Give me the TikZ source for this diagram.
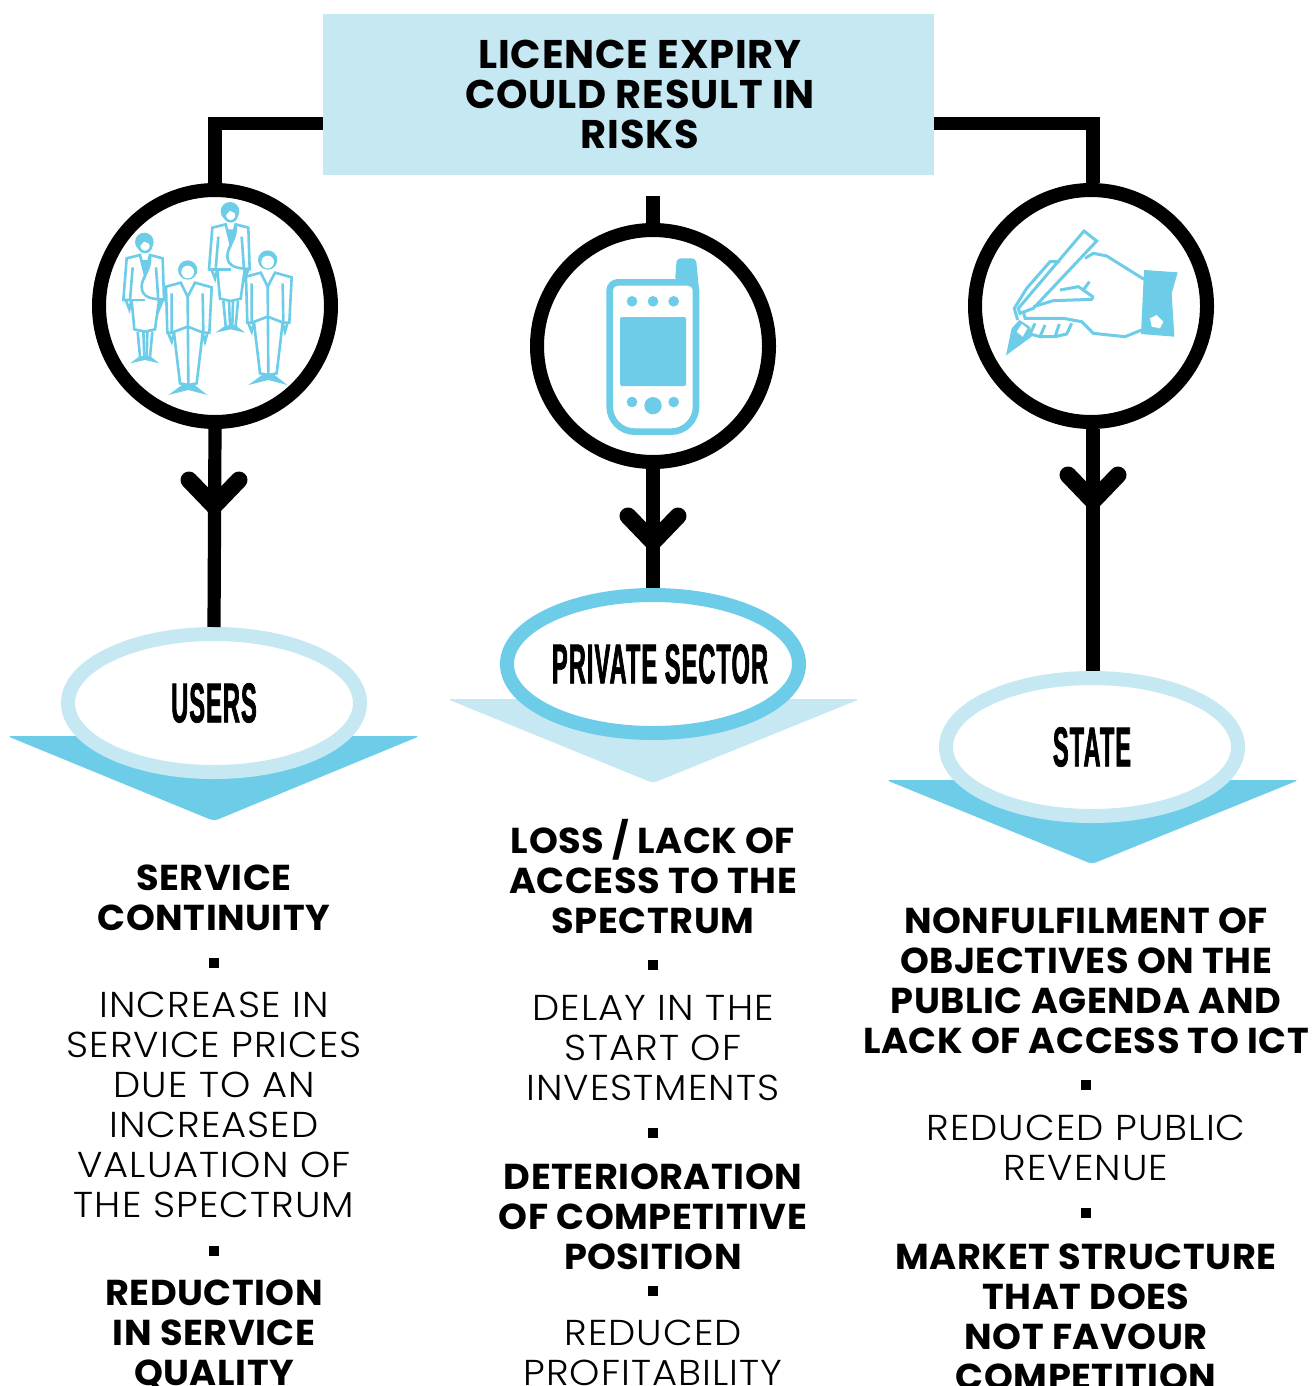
\documentclass[tikz,border=0pt]{standalone}
\usepackage{fontspec}
\usetikzlibrary{shapes.geometric,calc}
\setmainfont{Poppins}
\newfontfamily\boldf{Poppins}[UprightFont=* Bold,FakeStretch=1.02,LetterSpace=1.5]
\newfontfamily\titlef{Poppins}[UprightFont=* Bold,LetterSpace=2]
\newfontfamily\lightf{Poppins}[UprightFont=* Light,FakeStretch=1.07,LetterSpace=3]
\newfontfamily\condf{Liberation Sans}[UprightFont=* Bold,FakeStretch=0.42,FakeBold=1.2,LetterSpace=2]
\definecolor{lightb}{HTML}{C5E8F3}
\definecolor{midb}{HTML}{6DCDE8}
\tikzset{
 titlebox/.style={fill=lightb,minimum width=305.5pt,minimum height=80.5pt,inner sep=0pt,align=center,font=\titlef\fontsize{20}{20}\selectfont},
 ring/.style={circle,draw=black,line width=7pt,fill=white,minimum size=116pt,inner sep=0pt},
 oval/.style={ellipse,line width=7pt,fill=white,minimum width=146pt,minimum height=69pt,inner sep=0pt,font=\condf\fontsize{28}{30}\selectfont},
 conn/.style={draw=black,line width=6.6pt},
 chev/.style={draw=black,line width=8.5pt,line cap=round,line join=miter},
 headtxt/.style={align=center,inner sep=0pt,font=\boldf\fontsize{18}{20}\selectfont},
 bodytxt/.style={align=center,inner sep=0pt,font=\lightf\fontsize{18}{20}\selectfont},
 sq/.style={fill=black,minimum size=5pt,inner sep=0pt},
 ic/.style={draw=midb,line width=1.3pt,line join=miter},
 icf/.style={fill=midb},
 hd/.style={draw=midb,line width=1.5pt,line join=miter},
}
\newcommand{\manicon}[2]{\begin{scope}[shift={(#1,#2)}]
 \fill[icf] (293,270) circle (29);
 \fill[white] (293,276) circle (19);
 \draw[ic] (245,340) -- (245,458) -- (232,458) -- (228,320) -- (272,308) -- (293,350) -- (315,308) -- (365,322) -- (358,458) -- (340,458) -- (338,340);
 \draw[ic] (235,460) -- (245,485) -- (252,460);
 \draw[ic] (352,460) -- (345,485) -- (338,460);
 \draw[ic] (245,458) -- (293,440) -- (340,458);
 \draw[ic] (293,350) -- (295,615);
 \draw[ic] (252,458) -- (270,610) -- (295,615) -- (320,610) -- (338,458);
 \fill[icf] (235,645) -- (280,612) -- (310,612) -- (352,645) -- (295,630) -- cycle;
\end{scope}}
\newcommand{\womanicon}[2]{\begin{scope}[shift={(#1,#2)}]
 \fill[icf] (163,186) circle (28);
 \draw[ic,fill=white] (165,198) circle (18);
 \fill[icf] (140,175) -- (186,175) -- (180,192) -- (162,184) -- (150,198) -- cycle;
 \draw[ic] (128,262) -- (120,360) -- (100,360) -- (110,235) -- (150,225) -- (165,285) -- (180,225) -- (218,235) -- (222,360) -- (205,360) -- (198,262);
 \draw[ic] (180,225) .. controls (185,270) and (155,290) .. (155,320) .. controls (155,355) and (190,358) .. (222,358);
 \draw[ic] (100,360) -- (165,360);
 \fill[icf] (150,240) -- (178,240) -- (165,285) -- cycle;
 \draw[ic] (108,362) -- (118,388) -- (124,362);
 \draw[ic] (212,362) -- (207,388) -- (218,362);
 \draw[ic] (125,362) -- (133,448) -- (165,455) -- (195,448) -- (207,362);
 \draw[ic] (143,455) -- (150,530);
 \draw[ic] (160,455) -- (163,530);
 \draw[ic] (172,455) -- (170,530);
 \draw[ic] (187,455) -- (180,530);
 \fill[icf] (120,550) -- (150,528) -- (180,528) -- (208,550) -- (165,540) -- cycle;
\end{scope}}
\begin{document}
\begin{tikzpicture}[x=0.5pt,y=-0.5pt]
\useasboundingbox (0,0) rectangle (1312,1386);
\clip (0,0) rectangle (1312,1386);
% triangles
\fill[midb,rounded corners=2pt] (7,736) -- (420,736) -- (214,821) -- cycle;
\fill[lightb,rounded corners=2pt] (447,699) -- (860,699) -- (653,783) -- cycle;
\fill[midb,rounded corners=2pt] (886,780) -- (1299,780) -- (1092,864) -- cycle;
% nodes
\node[titlebox] (title) at (628.5,94.5) {\makebox[0pt]{\hspace{11.5pt}\raisebox{-0.5pt}{\parbox{300pt}{\centering LICENCE EXPIRY\\COULD RESULT IN\\RISKS}}}};
\node[ring] (c1) at (215,306) {};
\node[ring] (c2) at (653,346) {};
\node[ring] (c3) at (1091,306) {};
\node[oval,draw=lightb] (e1) at (214,703) {\makebox[0pt]{USERS}};
\node[oval,draw=midb] (e2) at (653,664) {\makebox[0pt]{\hspace{7pt}PRIVATE SECTOR}};
\node[oval,draw=lightb] (e3) at (1092,747) {\makebox[0pt]{STATE}};
\coordinate (s2) at (653,196);
\coordinate (ch1) at (214,506);
\coordinate (ch2) at (653,542);
\coordinate (ch3) at (1093,501);
% connectors
\draw[conn] ($(title.west)+(0,29)$) -| (c1.north);
\draw[conn] ($(title.east)+(0,29)$) -| ($(c3.north)+(2,0)$);
\draw[conn] (s2) -- (c2.north);
\draw[conn] (c1.south) -- (e1.north);
\draw[conn] (c2.south) -- (e2.north);
\draw[conn] ($(c3.south)+(2,0)$) -- ($(e3.north)+(1,0)$);
\draw[chev] ($(ch1)+(-25,-26)$) -- (ch1) -- ($(ch1)+(25,-26)$);
\draw[chev] ($(ch2)+(-25,-26)$) -- (ch2) -- ($(ch2)+(25,-26)$);
\draw[chev] ($(ch3)+(-25,-26)$) -- (ch3) -- ($(ch3)+(25,-26)$);
% people icon
\begin{scope}[shift={(90,180)},x=0.16667pt,y=-0.16667pt]
 \womanicon{0}{0}
 \womanicon{257}{-92}
 \manicon{0}{0}
 \manicon{240}{-30}
\end{scope}
% phone icon
\begin{scope}[shift={(530,220)},x=0.16667pt,y=-0.16667pt]
 \fill[icf,rounded corners=2pt] (435,185) -- (440,115) -- (498,115) -- (508,220) -- cycle;
 \draw[draw=midb,line width=3.3pt,fill=white] (239,212) arc (180:270:25) -- (473,187) arc (270:360:25) -- (498,560) arc (0:90:75) -- (314,635) arc (90:180:75) -- cycle;
 \fill[icf,rounded corners=1pt] (270,291) rectangle (468,498);
 \foreach \p in {306,369,431} \fill[icf] (\p,244) circle (16);
 \fill[icf] (306,546) circle (16);
 \fill[icf] (431,546) circle (16);
 \fill[icf] (369,557) circle (26);
\end{scope}
% hand icon
\begin{scope}[shift={(970,180)},x=0.16667pt,y=-0.16667pt]
 \draw[hd] (342,153) -- (380,183) -- (190,385) -- (150,400) -- (145,385) -- cycle;
 \draw[hd] (270,245) -- (240,245) -- (170,325) -- (133,385) -- (143,420);
 \draw[hd] (345,235) -- (370,220) -- (410,228) -- (522,298);
 \draw[hd] (190,380) -- (250,362) -- (368,358);
 \draw[hd] (270,330) -- (325,320) -- (340,330) -- (358,305);
 \draw[hd] (340,330) -- (368,350) -- (368,358);
 \draw[hd] (160,395) -- (165,415) -- (280,415) -- (335,425) -- (370,460) -- (465,470) -- (515,450);
 \draw[hd] (195,430) -- (180,462) -- (210,470) -- (225,435);
 \draw[hd] (210,470) -- (255,470) -- (268,432);
 \draw[hd] (255,470) -- (290,462) -- (305,430);
 \fill[icf] (148,420) -- (125,445) -- (108,526) -- (185,470) -- (180,440) -- cycle;
 \fill[white] (140,455) -- (155,432) -- (172,445) -- (158,470) -- cycle;
 \fill[icf] (522,270) -- (623,277) -- (605,340) -- (613,470) -- (513,462) -- cycle;
 \fill[white] (540,415) -- (560,405) -- (580,425) -- (570,445) -- (545,440) -- cycle;
\end{scope}
% texts col 1
\node[headtxt] (t11) at (214,898) {SERVICE\\CONTINUITY};
\node[sq] (b11) at (214,963) {};
\node[bodytxt] (t12) at (214,1105) {INCREASE IN\\SERVICE PRICES\\DUE TO AN\\INCREASED\\VALUATION OF\\THE SPECTRUM};
\node[sq] (b12) at (214,1251) {};
\node[headtxt] (t13) at (214,1335) {REDUCTION\\IN SERVICE\\QUALITY};
% col 2
\node[headtxt] (t21) at (653,877) {LOSS / LACK OF\\ACCESS TO THE\\SPECTRUM};
\node[sq] (b21) at (653,965) {};
\node[bodytxt] (t22) at (653,1048) {DELAY IN THE\\START OF\\INVESTMENTS};
\node[sq] (b22) at (653,1133) {};
\node[headtxt] (t23) at (653,1217) {DETERIORATION\\OF COMPETITIVE\\POSITION};
\node[sq] (b23) at (653,1291) {};
\node[bodytxt] (t24) at (653,1353) {REDUCED\\PROFITABILITY};
% col 3
\node[headtxt] (t31) at (1086,981) {NONFULFILMENT OF\\OBJECTIVES ON THE\\PUBLIC AGENDA AND\\LACK OF ACCESS TO ICT};
\node[sq] (b31) at (1086,1085) {};
\node[bodytxt] (t32) at (1086,1148) {REDUCED PUBLIC\\REVENUE};
\node[sq] (b32) at (1086,1213) {};
\node[headtxt] (t33) at (1086,1317) {MARKET STRUCTURE\\THAT DOES\\NOT FAVOUR\\COMPETITION};
\end{tikzpicture}
\end{document}
